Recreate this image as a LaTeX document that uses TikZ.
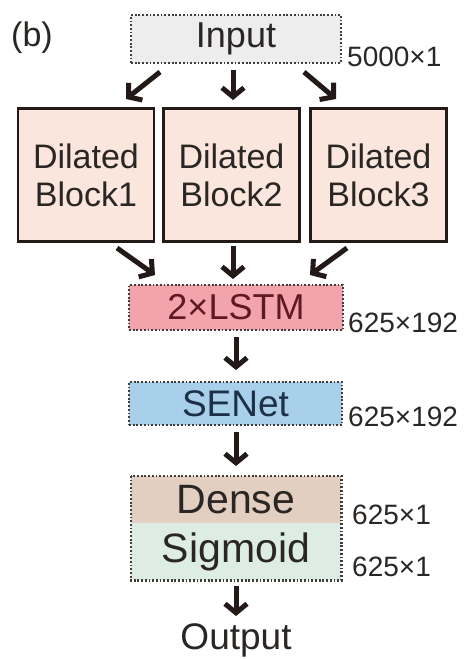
\documentclass[tikz,border=0pt]{standalone}
\usepackage{fontspec}
\setmainfont{Liberation Sans}
\usetikzlibrary{arrows.meta}
\definecolor{inputfill}{HTML}{EDEDED}
\definecolor{blockfill}{HTML}{FAE6DC}
\definecolor{lstmfill}{HTML}{F3A3AB}
\definecolor{sefill}{HTML}{A9D0EA}
\definecolor{densefill}{HTML}{E2CFC2}
\definecolor{sigfill}{HTML}{DDEDE3}
\definecolor{txt}{HTML}{2A2624}
\definecolor{lstmtxt}{HTML}{5E1A20}
\definecolor{setxt}{HTML}{1C3048}
\definecolor{arrcol}{HTML}{231A18}
\newcommand{\fs}[1]{\fontsize{#1}{#1}\selectfont}
\tikzset{
  dotbox/.style={draw=txt!90, line width=2.6pt, dash pattern=on 1.8pt off 1.9pt, inner sep=0pt},
  blockbox/.style={draw=arrcol, line width=2.4pt, fill=blockfill, minimum width=136pt, minimum height=133pt, inner sep=0pt, align=center, text=txt, font=\fs{34}},
  arr/.style={draw=arrcol, line width=5pt, -{Straight Barb[length=9pt, width=22pt, line width=5pt]}},
  dimlab/.style={text=txt, font=\fs{28}, inner sep=0pt, anchor=west},
}
\begin{document}
\begin{tikzpicture}[x=1pt,y=-1pt]
\useasboundingbox (0,0) rectangle (467,659);
\node[text=txt, font=\fs{34}, inner sep=0pt] (lbl) at (32,38) {(b)};
\node[dotbox, fill=inputfill, minimum width=210pt, minimum height=48pt, text=txt, font=\fs{36}] (input) at (236,39) {Input};
\node[dimlab] (d0) at (347,57) {5000×1};

\node[blockbox] (b1) at (86,175) {Dilated\\[4pt]Block1};
\node[blockbox] (b2) at (231.5,175) {Dilated\\[4pt]Block2};
\node[blockbox] (b3) at (378.5,175) {Dilated\\[4pt]Block3};

\node[dotbox, fill=lstmfill, minimum width=214pt, minimum height=45pt, text=lstmtxt, font=\fs{36}] (lstm) at (236,307.5) {2×LSTM};
\node[dimlab] (d1) at (348,323) {625×192};

\node[dotbox, fill=sefill, minimum width=213pt, minimum height=43pt, text=setxt, font=\fs{37}] (se) at (235.5,403.5) {SENet};
\node[dimlab] (d2) at (348,417) {625×192};

\node[fill=densefill, minimum width=210pt, minimum height=47pt, inner sep=0pt, text=txt, font=\fs{41}] (dense) at (236,499.5) {Dense};
\node[fill=sigfill, minimum width=210pt, minimum height=57pt, inner sep=0pt, text=txt, font=\fs{41}] (sig) at (236,551.5) {Sigmoid};
\draw[dotbox] (dense.north west) rectangle (sig.south east);
\node[dimlab] (d3) at (352,515) {625×1};
\node[dimlab] (d4) at (352,567) {625×1};

\node[text=txt, font=\fs{37}, inner sep=0pt] (out) at (236,640) {Output};

% arrows
\coordinate (a1s) at (160,72); \coordinate (a1e) at (126,99);
\coordinate (a2s) at (233,70); \coordinate (a2e) at (233,100);
\coordinate (a3s) at (304,72); \coordinate (a3e) at (336,99);
\draw[arr] (a1s) -- (a1e);
\draw[arr] (a2s) -- (a2e);
\draw[arr] (a3s) -- (a3e);
\coordinate (c1s) at (117,248); \coordinate (c1e) at (155,275);
\coordinate (c2s) at (233,246); \coordinate (c2e) at (233,279);
\coordinate (c3s) at (347,248); \coordinate (c3e) at (310,275);
\draw[arr] (c1s) -- (c1e);
\draw[arr] (c2s) -- (c2e);
\draw[arr] (c3s) -- (c3e);
\coordinate (e1s) at (236,337); \coordinate (e1e) at (236,370);
\draw[arr] (e1s) -- (e1e);
\coordinate (e2s) at (236,432); \coordinate (e2e) at (236,466);
\draw[arr] (e2s) -- (e2e);
\coordinate (e3s) at (236,586); \coordinate (e3e) at (236,616);
\draw[arr] (e3s) -- (e3e);
\end{tikzpicture}
\end{document}
